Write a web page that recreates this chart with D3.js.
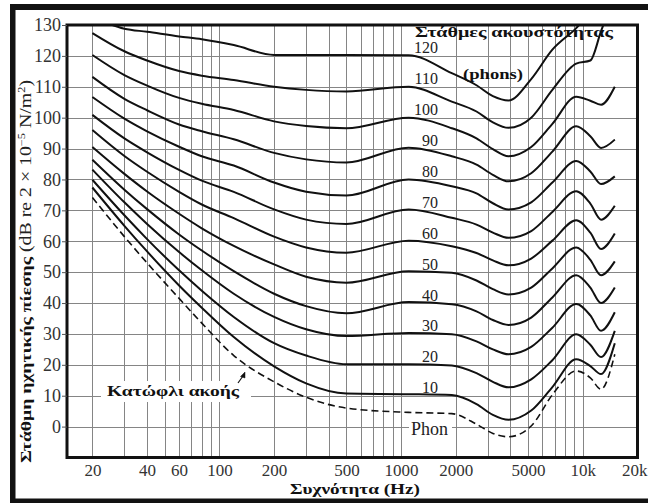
<!DOCTYPE html>
<html>
<head>
<meta charset="utf-8">
<script src="https://cdn.jsdelivr.net/npm/d3@7"></script>
<style>
  body { margin: 0; background: #fff; }
  svg { display: block; }
</style>
</head>
<body>
<svg id="chart" width="648" height="503"></svg>
<script>
// Frequencies (Hz) at which every contour is sampled
const freqHz = [20, 30, 40, 60, 80, 120, 200, 300, 500, 1100, 1900, 2600, 3200, 3900, 5200, 6800, 9200, 11000, 12600, 15000];

// Sound pressure level (dB) of each equal-loudness contour at freqHz
const thresholdDb = [74.2, 61.5, 53, 41.5, 33.5, 23, 14.5, 9.5, 6, 4.6, 4.2, 0.8, -2.2, -3.3, 0.2, 10.3, 18, 15.8, 12.1, 23.4];
const phon10  = [77.4, 65, 56.7, 45.7, 38.5, 29, 19.5, 14, 10.7, 10.5, 10.2, 7.3, 3.8, 2.2, 5.2, 12.8, 21.8, 19.6, 17, 27];
const phon20  = [79.9, 68.4, 60.7, 50.6, 44, 35.5, 27, 23, 20.2, 20.2, 19.8, 17.3, 14.5, 12.7, 15.3, 21.5, 29.9, 26.5, 22.5, 31];
const phon30  = [83.2, 72.6, 65.6, 56.5, 50.6, 43, 35.5, 31.5, 29.3, 30.3, 29.9, 27.6, 25, 23.4, 25.8, 32, 39.7, 36, 31, 37];
const phon40  = [86.4, 76.7, 70.4, 62.2, 57, 50.3, 43, 39, 36.7, 40.3, 39.6, 37.3, 34.5, 32.9, 35.3, 41.8, 49, 45, 40, 45];
const phon50  = [90.5, 81.8, 76.1, 68.9, 64.2, 58.5, 52.5, 48.5, 46.6, 50.3, 49.8, 47.3, 44.5, 42.8, 45, 51.2, 58, 54, 49, 53.5];
const phon60  = [96, 87.6, 82.5, 76, 71.9, 67.5, 61.5, 58, 56.3, 60.2, 58.4, 56.2, 53.8, 52.2, 54.4, 60.2, 66.8, 62.8, 57.5, 62.5];
const phon70  = [100.9, 93.3, 88.8, 83.1, 79.6, 76, 70.3, 67, 65.6, 70.3, 67.6, 65.4, 62.8, 61.1, 63.3, 69.5, 76.2, 72.2, 67, 71.5];
const phon80  = [106.7, 99.7, 95.6, 90.6, 87.5, 84.5, 79, 76, 74.8, 80, 77.8, 75.5, 72.3, 70.3, 72.6, 79, 86, 82.6, 78.5, 81];
const phon90  = [113.2, 106.1, 102.4, 97.8, 95.6, 93, 88.6, 86.5, 85.5, 90.3, 87.5, 84.8, 81.5, 79.4, 82, 89, 97.2, 94, 90.2, 92.9];
const phon100 = [120.3, 113.8, 110.4, 106.4, 104.5, 102.5, 98.8, 97.3, 96.6, 100, 96.6, 93.3, 89.8, 87.5, 90.5, 98, 106.8, 105.5, 104.2, 110];
const phon110 = [127.4, 121.5, 118.5, 115.1, 113.6, 112.2, 110, 109, 108.5, 110, 105.2, 102, 98.5, 96.7, 100, 109, 117.5, 118.5, 128, 140];
const phon120 = [132.5, 128.8, 127.8, 126.3, 125.4, 123.5, 120.3, 120.3, 120.3, 120.2, 114.4, 110.5, 107, 105.6, 112.5, 122, 129, 134, 138, 142];

// Axis ticks
const dbTicks = [0, 10, 20, 30, 40, 50, 60, 70, 80, 90, 100, 110, 120, 130];
const dbGrid = [0, 10, 20, 30, 40, 50, 60, 70, 80, 90, 100, 110, 120];
const hzTicks = [20, 40, 60, 100, 200, 500, 1000, 2000, 5000, 10000, 20000];
const hzTickText = ["20", "40", "60", "100", "200", "500", "1000", "2000", "5000", "10k", "20k"];
const hzGrid = [20, 30, 40, 50, 60, 70, 80, 90,
                100, 200, 300, 400, 500, 600, 700, 800, 900,
                1000, 2000, 3000, 4000, 5000, 6000, 7000, 8000, 9000, 10000];

const contours = [
  { phon: 120, values: phon120 },
  { phon: 110, values: phon110 },
  { phon: 100, values: phon100 },
  { phon: 90, values: phon90 },
  { phon: 80, values: phon80 },
  { phon: 70, values: phon70 },
  { phon: 60, values: phon60 },
  { phon: 50, values: phon50 },
  { phon: 40, values: phon40 },
  { phon: 30, values: phon30 },
  { phon: 20, values: phon20 },
  { phon: 10, values: phon10 }
];

const W = 648, H = 503;
const plot = { left: 67, right: 637.5, top: 25, bottom: 457.5 };
const svg = d3.select("#chart");
const serif = "'Liberation Serif', 'Times New Roman', serif";

const x = d3.scaleLog().domain([14.5, 20000]).range([plot.left, plot.right]);
const y = d3.scaleLinear().domain([-10, 130]).range([plot.bottom, plot.top]);

svg.append("rect").attr("width", W).attr("height", H).attr("fill", "#fff");

// Outer black frame (left, top, bottom)
const frame = svg.append("g").attr("fill", "#121212");
frame.append("rect").attr("x", 10).attr("y", 4).attr("width", 5.5).attr("height", H - 4);
frame.append("rect").attr("x", 10).attr("y", 4).attr("width", W - 10).attr("height", 6);
frame.append("rect").attr("x", 10).attr("y", 498.5).attr("width", W - 10).attr("height", 4.5);

// Grid
const grid = svg.append("g").attr("stroke", "#858585").attr("stroke-width", 1);
grid.selectAll("line.h").data(dbGrid).join("line")
  .attr("class", "h")
  .attr("x1", plot.left).attr("x2", plot.right)
  .attr("y1", d => Math.round(y(d)) + 0.5).attr("y2", d => Math.round(y(d)) + 0.5);
grid.selectAll("line.v").data(hzGrid).join("line")
  .attr("class", "v")
  .attr("y1", plot.top).attr("y2", plot.bottom)
  .attr("x1", d => Math.round(x(d)) + 0.5).attr("x2", d => Math.round(x(d)) + 0.5);

// Label backgrounds that interrupt the grid
svg.append("rect").attr("x", 101).attr("y", 381).attr("width", 150).attr("height", 21).attr("fill", "#fff");
svg.append("rect").attr("x", 409).attr("y", 419).attr("width", 43).attr("height", 18).attr("fill", "#fff");

// Clip for the contours
svg.append("clipPath").attr("id", "plotClip")
  .append("rect")
  .attr("x", plot.left).attr("y", plot.top)
  .attr("width", plot.right - plot.left).attr("height", plot.bottom - plot.top);

const line = d3.line()
  .x(d => x(d[0]))
  .y(d => y(d[1]))
  .curve(d3.curveMonotoneX);

const curves = svg.append("g").attr("clip-path", "url(#plotClip)").attr("fill", "none");
curves.selectAll("path.contour").data(contours).join("path")
  .attr("class", "contour")
  .attr("d", c => line(freqHz.map((f, i) => [f, c.values[i]])))
  .attr("stroke", "#111")
  .attr("stroke-width", 2);

curves.append("path")
  .attr("d", line(freqHz.map((f, i) => [f, thresholdDb[i]])))
  .attr("stroke", "#111")
  .attr("stroke-width", 1.6)
  .attr("stroke-dasharray", "7,4");

// Plot border
svg.append("rect")
  .attr("x", plot.left).attr("y", plot.top)
  .attr("width", plot.right - plot.left).attr("height", plot.bottom - plot.top)
  .attr("fill", "none").attr("stroke", "#111").attr("stroke-width", 3);

// Y axis
const yAxis = svg.append("g")
  .attr("transform", `translate(${plot.left},0)`)
  .call(d3.axisLeft(y).tickValues(dbTicks).tickSize(5).tickPadding(1).tickFormat(d3.format("d")));
yAxis.select(".domain").remove();
yAxis.selectAll(".tick line").attr("stroke", "#555");
yAxis.selectAll(".tick text")
  .attr("font-family", serif).attr("font-size", 18).attr("fill", "#333");

// X axis
const xAxis = svg.append("g")
  .attr("transform", `translate(0,${plot.bottom})`)
  .call(d3.axisBottom(x).tickValues(hzTicks).tickSize(0).tickPadding(6)
    .tickFormat(d => hzTickText[hzTicks.indexOf(d)]));
xAxis.select(".domain").remove();
xAxis.selectAll(".tick text")
  .attr("font-family", serif).attr("font-size", 17).attr("fill", "#333");
// the last label sits against the right edge of the page
xAxis.selectAll(".tick text").filter(d => d === 20000)
  .attr("text-anchor", "end").attr("x", W - 1 - plot.right);

// Contour labels
const labelX = 438;
svg.append("g").selectAll("text").data(contours).join("text")
  .attr("x", labelX)
  .attr("y", d => y(d.phon) - 2.5)
  .attr("text-anchor", "end")
  .attr("font-family", serif).attr("font-size", 16).attr("fill", "#222")
  .text(d => d.phon);

svg.append("text")
  .attr("x", 411).attr("y", 435)
  .attr("font-family", serif).attr("font-size", 18).attr("fill", "#222")
  .text("Phon");

// Titles and annotations
const bold = (sel) => sel.attr("font-family", serif).attr("font-weight", "bold").attr("fill", "#111");

bold(svg.append("text"))
  .attr("x", 415).attr("y", 37).attr("font-size", 15)
  .attr("textLength", 198).attr("lengthAdjust", "spacingAndGlyphs")
  .text("Στάθμες ακουστότητας");

bold(svg.append("text"))
  .attr("x", 463).attr("y", 79).attr("font-size", 15)
  .attr("textLength", 60).attr("lengthAdjust", "spacingAndGlyphs")
  .text("(phons)");

bold(svg.append("text"))
  .attr("x", 107).attr("y", 396).attr("font-size", 15)
  .attr("textLength", 132).attr("lengthAdjust", "spacingAndGlyphs")
  .text("Κατώφλι ακοής");

bold(svg.append("text"))
  .attr("x", 290).attr("y", 494).attr("font-size", 15)
  .attr("textLength", 130).attr("lengthAdjust", "spacingAndGlyphs")
  .text("Συχνότητα (Hz)");

// Arrow from the threshold label to the dashed curve
const arrow = svg.append("g").attr("stroke", "#111").attr("fill", "#111");
arrow.append("line").attr("x1", 238).attr("y1", 383).attr("x2", 243).attr("y2", 376).attr("stroke-width", 1.2);
arrow.append("path").attr("d", "M245,372 L240.5,376.5 L245,378 Z").attr("stroke-width", 0.5);

// Y axis title
bold(svg.append("text"))
  .attr("transform", "translate(31,463) rotate(-90)")
  .attr("font-size", 15)
  .attr("textLength", 206).attr("lengthAdjust", "spacingAndGlyphs")
  .text("Στάθμη ηχητικής πίεσης");

const unit = svg.append("text")
  .attr("transform", "translate(31,252) rotate(-90)")
  .attr("font-family", serif).attr("font-size", 16).attr("fill", "#222")
  .attr("textLength", 172).attr("lengthAdjust", "spacingAndGlyphs");
unit.append("tspan").text("(dB re 2 × 10");
unit.append("tspan").attr("font-size", 10).attr("dy", -6).text("−5");
unit.append("tspan").attr("dy", 6).text(" N/m");
unit.append("tspan").attr("font-size", 10).attr("dy", -6).text("2");
unit.append("tspan").attr("dy", 6).text(")");
</script>
</body>
</html>
